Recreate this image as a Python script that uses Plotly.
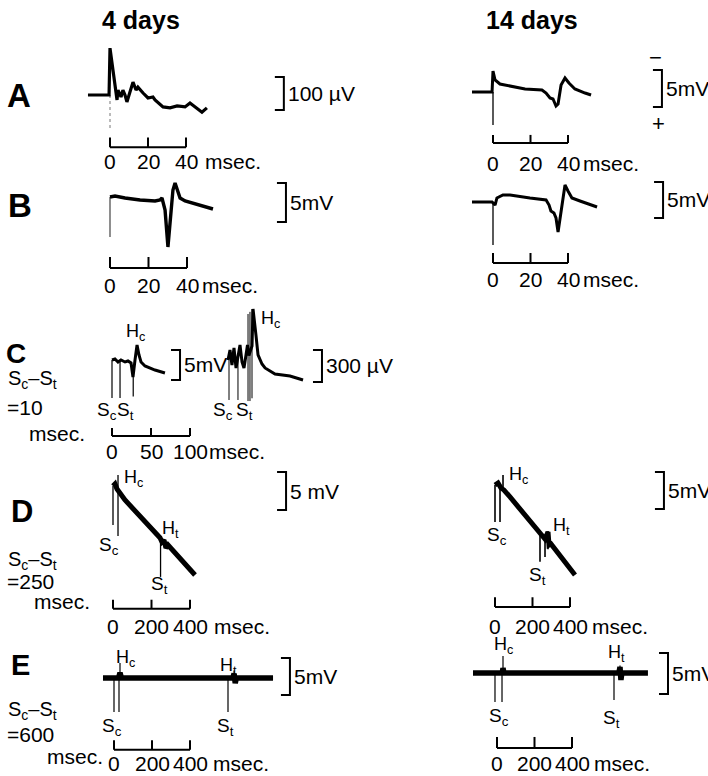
import plotly.graph_objects as go

W, H = 708, 776
FONT = "Liberation Sans, Arial, Helvetica, sans-serif"

# ---------------- sweep data (time in ms; potential in mV, or µV where noted) ----------------
# A, 4 days (µV)
A4_T = [-11.6, -0.5, 0, 3.7, 4.2, 5.8, 6.8, 7.9, 8.9, 10.5, 12.1, 13.7, 14.7, 17.4, 20, 22.6,
        23.7, 27.9, 31.6, 35.3, 39.5, 42.1, 44.7, 48.4, 51]
A4_V = [0, 0, 142, -15, 15, -6, 15, 0, -21, 6, 39, 15, 24, 6, -9, -6, -15, -36, -39, -33, -36,
        -24, -36, -52, -39]
A4_STIM = [(0, 0, -106)]

# A, 14 days (mV)
A14_T = [-11.2, -0.5, 0, 1.1, 3.7, 9.1, 17.1, 26.1, 28.3, 30.4, 32, 33.6, 34.7, 36.3, 38.4,
         40.5, 43.7, 49.1, 52.3]
A14_V = [0, 0, 2.84, 1.62, 1.08, 0.81, 0.41, 0.27, -0.14, -0.81, -0.95, -1.89, -1.62, 0.95,
         1.89, 1.22, 0.41, -0.14, -0.41]
A14_STIM = [(0, 0, -4.46)]

# B, 4 days (mV)
B4_T = [0, 2.6, 7.8, 15.6, 23.4, 26, 27, 28.6, 30.1, 31.2, 32.7, 33.8, 34.8, 36.4, 39, 44.2,
        49.4, 53.5]
B4_V = [0.13, 0.26, 0, -0.26, -0.38, -0.26, 0, -1.54, -6.28, -3.46, 1.03, 1.92, 1.03, 0,
        -0.38, -0.77, -1.15, -1.41]
B4_STIM = [(0, 0.13, -5.0)]

# B, 14 days (mV)
B14_T = [-11.2, -0.5, 1.1, 2.1, 5.3, 9.1, 19.7, 28.3, 29.9, 30.9, 32.5, 33.6, 34.7, 36.3,
         38.4, 40, 42.1, 46.4, 55.5]
B14_V = [0, 0, -0.42, 0.56, 0.97, 0.97, 0.56, 0.28, -0.42, -1.25, -1.53, -2.22, -4.17, -1.11,
         2.36, 1.53, 0.56, 0.14, -0.69]
B14_STIM = [(0, 0, -5.97)]

# C, 4 days, low gain (mV)
C5_T = [0, 3.8, 7.7, 11.5, 16.7, 20.5, 24.4, 26.9, 29.5, 32.1, 34.6, 37.2, 42.3, 55.1, 67.9]
C5_V = [0, 0.17, -0.33, 0, -0.33, -0.17, -0.5, -2.83, 0, 2.5, 0.83, -0.33, -1, -1.67, -2.17]
C5_STIM = [(0, 0, -6.33), (10.3, -0.2, -6.33), (27.2, -2.6, -6.1)]

# C, 4 days, high gain (µV)
C300_T = [-1.3, 1.3, 3.8, 6.4, 9, 11.5, 14.1, 16.7, 19.2, 21.8, 23.7, 25.5, 29.5, 30.8, 33,
          34.6, 37.2, 42.3, 46.2, 59, 78.2, 94.9]
C300_V = [19, 112, -28, 131, -56, 66, 159, 0, -56, 66, 159, 60, 150, 497, 380, 250, 66, -19,
          -56, -112, -131, -169]
C300_STIM = [(0, 19, -356), (11.5, 60, -356), (24.4, 450, -366), (26.9, 470, -366),
             (29.5, 497, -340)]

# D, Sc-St = 250 ms (mV)
D4_T = [0, 10.4, 20.8, 31.2, 62.3, 244, 254.5, 265, 275, 286, 426]
D4_V = [0.26, 0.53, -0.13, -0.53, -1.58, -6.54, -7.1, -6.84, -7.9, -7.5, -11.45]
D4_STIM = [(0, 0.26, -4.87), (26, 1.71, -6.3), (247, -6.6, -11.7)]

D14_T = [0, 16, 32, 48, 80, 240, 266.7, 282.7, 288, 298.7, 426.7]
D14_V = [0.27, 0.54, -0.14, -0.41, -1.35, -6.35, -7.03, -6.08, -7.84, -7.7, -11.9]
D14_STIM = [(0, 0.27, -4.73), (26.7, 0.4, -4.73), (42.7, -0.3, 1.62), (240, -6.3, -10.1),
            (266.7, -7.0, -9.46), (282.7, -5.95, -8.4)]

# E, Sc-St = 600 ms (mV)
E4_T = [-58, 24, 31.6, 39, 625, 632, 638, 644, 837]
E4_V = [0, 0, 0.7, 0, 0, 0.6, -0.7, 0, 0]
E4_STIM = [(0, 0, -4.6), (26.3, 0, -4.6), (31.6, 0, 2.03), (600, 0, -4.6), (632, 0, 1.0)]

E14_T = [-128, 28, 32, 37, 650, 656, 661, 666, 805]
E14_V = [0, 0, 0.6, 0, 0, 0.73, -0.85, 0, 0]
E14_STIM = [(-10.7, 0, -3.54), (26.7, 0, -3.54), (32, 0, 2.07), (624, 0, -3.3), (656, 0, 0.9)]

# calibration bars
TICKS_40 = [0, 20, 40]
TICKS_100 = [0, 50, 100]
TICKS_400 = [0, 200, 400]

HC, HT, SC, ST = "H<sub>c</sub>", "H<sub>t</sub>", "S<sub>c</sub>", "S<sub>t</sub>"

# ---------------- panel layout ----------------
PANELS = [
    dict(T=A4_T, V=A4_V, stim=A4_STIM, lw=3.2, stim_style=dict(width=1, color="#777", dash="dot"),
         box=(80, 350, 40, 178), origin=(110, 95), scale=(1.9, 0.33),
         ticks=TICKS_40, bar_v=-158, tick_v=-129, tick_lbl_v=-203, unit_gap=17, unit_text="msec.",
         gain=100, br_t=91.5, br_v=-45.5, gain_text="100 µV",
         labels=[]),
    dict(T=A14_T, V=A14_V, stim=A14_STIM, lw=3, stim_style=dict(width=1.3, color="black"),
         box=(462, 708, 40, 178), origin=(493, 92), scale=(1.875, 7.4),
         ticks=TICKS_40, bar_v=-6.9, tick_v=-5.8, tick_lbl_v=-9.6, unit_gap=13, unit_text="msec.",
         gain=5, br_t=90.1, br_v=-2.03, gain_text="5mV",
         labels=[("−", 86.4, 4.6, 22), ("+", 88, -4.2, 22)]),
    dict(T=B4_T, V=B4_V, stim=B4_STIM, lw=3.4, stim_style=dict(width=1.2, color="#444"),
         box=(80, 350, 178, 298), origin=(110, 198), scale=(1.925, 7.8),
         ticks=TICKS_40, bar_v=-8.97, tick_v=-7.56, tick_lbl_v=-11.2, unit_gap=13, unit_text="msec.",
         gain=5, br_t=91.4, br_v=-3.08, gain_text="5mV",
         labels=[]),
    dict(T=B14_T, V=B14_V, stim=B14_STIM, lw=3, stim_style=dict(width=1.3, color="black"),
         box=(462, 708, 178, 298), origin=(493, 202), scale=(1.875, 7.2),
         ticks=TICKS_40, bar_v=-8.47, tick_v=-7.08, tick_lbl_v=-10.8, unit_gap=13, unit_text="msec.",
         gain=5, br_t=90.7, br_v=-2.22, gain_text="5mV",
         labels=[]),
    dict(T=C5_T, V=C5_V, stim=C5_STIM, lw=3, stim_style=dict(width=1.2, color="black"),
         box=(92, 226, 300, 468), origin=(112, 360), scale=(0.78, 6),
         ticks=TICKS_100, bar_v=-12.67, tick_v=-11.33, tick_lbl_v=-15.3, unit_gap=17, unit_text="msec.",
         gain=5, br_t=87.2, br_v=-3.33, gain_text="5mV",
         labels=[(HC, 30.1, 4.5, 18), (SC, -7, -8.5, 19), (ST, 16.7, -8.5, 19)]),
    dict(T=C300_T, V=C300_V, stim=C300_STIM, lw=3, stim_style=dict(width=1, color="black"),
         box=(205, 400, 300, 430), origin=(229, 362), scale=(0.78, 0.1067),
         ticks=None, gain=300, br_t=119.2, br_v=-187.5, gain_text="300 µV",
         labels=[(HC, 53.8, 394, 18), (SC, -7.7, -459, 19), (ST, 20.5, -459, 19)]),
    dict(T=D4_T, V=D4_V, stim=D4_STIM, lw=5, stim_style=dict(width=1.3, color="black"),
         box=(88, 350, 462, 640), origin=(113, 488), scale=(0.1925, 7.6),
         ticks=TICKS_400, bar_v=-15.9, tick_v=-14.7, tick_lbl_v=-18.2, unit_gap=22, unit_text="msec.",
         gain=5, br_t=899, br_v=-2.9, gain_text="5 mV",
         labels=[(HC, 104, 1.3, 18), (SC, -21, -7.6, 19), (HT, 301, -5.5, 18), (ST, 239, -12.8, 19)]),
    dict(T=D14_T, V=D14_V, stim=D14_STIM, lw=5, stim_style=dict(width=1.6, color="black"),
         box=(462, 708, 462, 640), origin=(495, 487), scale=(0.1875, 7.4),
         ticks=TICKS_400, bar_v=-16.2, tick_v=-14.9, tick_lbl_v=-18.8, unit_gap=20, unit_text="msec.",
         gain=5, br_t=901, br_v=-2.97, gain_text="5mV",
         labels=[(HC, 123, 1.6, 18), (SC, 10.7, -6.6, 19), (HT, 352, -5.4, 18), (ST, 229, -12, 19)]),
    dict(T=E4_T, V=E4_V, stim=E4_STIM, lw=5.5, stim_style=dict(width=1.2, color="black"),
         box=(88, 350, 640, 776), origin=(114, 678), scale=(0.19, 7.4),
         ticks=TICKS_400, bar_v=-9.7, tick_v=-8.4, tick_lbl_v=-11.5, unit_gap=21, unit_text="msec.",
         gain=5, br_t=926, br_v=-2.3, gain_text="5mV",
         labels=[(HC, 63, 2.7, 18), (SC, -10.5, -6.6, 19), (HT, 600, 1.6, 18), (ST, 589, -6.6, 19)]),
    dict(T=E14_T, V=E14_V, stim=E14_STIM, lw=5.5, stim_style=dict(width=1.2, color="black"),
         box=(462, 708, 640, 776), origin=(497, 673), scale=(0.1875, 8.2),
         ticks=TICKS_400, bar_v=-9.15, tick_v=-7.8, tick_lbl_v=-10.98, unit_gap=20, unit_text="msec.",
         gain=5, br_t=912, br_v=-2.56, gain_text="5mV",
         labels=[(HC, 37, 3.3, 18), (SC, 10.7, -5.4, 19), (HT, 635, 2.4, 18), (ST, 608, -5.6, 19)]),
]

fig = go.Figure()
layout = dict(width=W, height=H, margin=dict(l=0, r=0, t=0, b=0), paper_bgcolor="white",
              plot_bgcolor="rgba(0,0,0,0)", showlegend=False, font=dict(family=FONT, color="black"))
annotations = []


def ann(text, x, y, xref, yref, size, **kw):
    d = dict(text=text, x=x, y=y, xref=xref, yref=yref, showarrow=False,
             font=dict(family=FONT, size=size, color="black"))
    d.update(kw)
    annotations.append(d)


for i, p in enumerate(PANELS, start=1):
    sfx = "" if i == 1 else str(i)
    xr, yr = "x" + sfx, "y" + sfx
    l, r, t, b = p["box"]
    x0, y0 = p["origin"]
    sx, sy = p["scale"]
    layout["xaxis" + sfx] = dict(domain=[l / W, r / W], range=[(l - x0) / sx, (r - x0) / sx],
                                 visible=False, fixedrange=True, anchor=yr)
    layout["yaxis" + sfx] = dict(domain=[1 - b / H, 1 - t / H], range=[(y0 - b) / sy, (y0 - t) / sy],
                                 visible=False, fixedrange=True, anchor=xr)

    def line(xs, ys, **style):
        fig.add_trace(go.Scatter(x=xs, y=ys, mode="lines", xaxis=xr, yaxis=yr, hoverinfo="skip",
                                 line=style, showlegend=False))

    # stimulus artefacts / thin spikes
    sx_, sy_ = [], []
    for (ts, va, vb) in p["stim"]:
        sx_ += [ts, ts, None]
        sy_ += [va, vb, None]
    line(sx_, sy_, **p["stim_style"])

    # sweep
    line(p["T"], p["V"], color="black", width=p["lw"])

    # time calibration bar
    if p["ticks"]:
        tk = p["ticks"]
        bx = [tk[0], tk[-1], None]
        by = [p["bar_v"], p["bar_v"], None]
        for tv in tk:
            bx += [tv, tv, None]
            by += [p["bar_v"], p["tick_v"], None]
        line(bx, by, color="black", width=2)
        for tv in tk:
            ann(str(tv), tv, p["tick_lbl_v"], xr, yr, 21, xanchor="center", yanchor="middle")
        ann(p["unit_text"], tk[-1], p["tick_lbl_v"], xr, yr, 21, xanchor="left", yanchor="middle",
            xshift=p["unit_gap"])

    # amplitude calibration bracket
    arm = 9 / sx
    top = p["br_v"] + p["gain"]
    line([p["br_t"] - arm, p["br_t"], p["br_t"], p["br_t"] - arm],
         [top, top, p["br_v"], p["br_v"]], color="black", width=2)
    ann(p["gain_text"], p["br_t"], p["br_v"] + p["gain"] / 2, xr, yr, 21,
        xanchor="left", yanchor="middle", xshift=2)

    for (txt, tx, ty, fs) in p["labels"]:
        ann(txt, tx, ty, xr, yr, fs, xanchor="center", yanchor="middle")


# headings and row captions
def paper(text, px, py, size, anchor="center", weight="normal"):
    annotations.append(dict(text=text, x=px / W, y=1 - py / H, xref="paper", yref="paper",
                            showarrow=False, xanchor=anchor, yanchor="middle",
                            font=dict(family=FONT, size=size, color="black", weight=weight)))


paper("4 days", 141, 20, 25, weight="bold")
paper("14 days", 532, 20, 25, weight="bold")
paper("A", 19, 95, 33, weight="bold")
paper("B", 20, 206, 33, weight="bold")
paper("C", 16, 354, 28, weight="bold")
paper("D", 22, 511, 31, weight="bold")
paper("E", 20, 665, 29, weight="bold")
for (py1, py2, py3, txt, mx) in [(379, 407, 433, "=10", 27), (560, 581, 601, "=250", 32),
                                 (710, 734, 756, "=600", 45)]:
    paper(SC + "–" + ST, 6, py1, 20, anchor="left")
    paper(txt, 5, py2, 21, anchor="left")
    paper("msec.", mx, py3, 21, anchor="left")

layout["annotations"] = annotations
fig.update_layout(**layout)
fig.write_html("out.html")
